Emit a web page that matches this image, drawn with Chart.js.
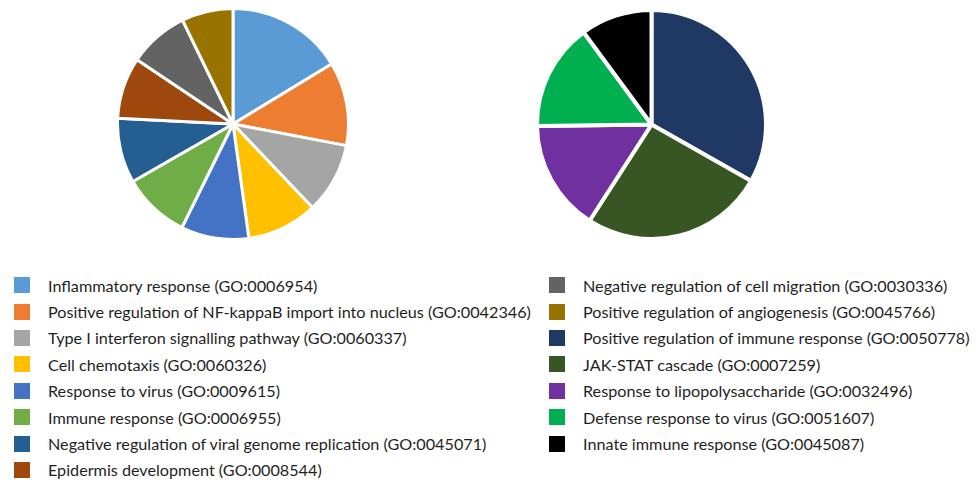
<!DOCTYPE html>
<html>
<head>
<meta charset="utf-8">
<script src="https://cdn.jsdelivr.net/npm/chart.js@4.4.1/dist/chart.umd.min.js"></script>
<style>
  html, body { margin: 0; padding: 0; background: #fff; }
  #wrap { position: relative; width: 976px; height: 481px; overflow: hidden; font-family: Lato, "Open Sans", sans-serif; }
  .pie { position: absolute; }
  #pieA { left: 116px; top: 7px; width: 234px; height: 234px; }
  #pieB { left: 535px; top: 8px; width: 233px; height: 233px; }
  .legend { position: absolute; top: 272px; margin: 0; padding: 0; list-style: none; }
  #legA { left: 14px; }
  #legB { left: 549px; }
  .legend li { height: 26.4px; display: flex; align-items: center; font-size: 16.2px; color: #1f1f1f; white-space: nowrap; }
  .legend .sw { width: 16px; height: 16px; margin-right: 18px; flex: none; }
</style>
</head>
<body>
<div id="wrap">
  <div class="pie" id="pieA"><canvas id="cA"></canvas></div>
  <div class="pie" id="pieB"><canvas id="cB"></canvas></div>
  <ul class="legend" id="legA"></ul>
  <ul class="legend" id="legB"></ul>
</div>
<script>
// GO terms, first group (left pie)
const termsA = [
  "Inflammatory response (GO:0006954)",
  "Positive regulation of NF-kappaB import into nucleus (GO:0042346)",
  "Type I interferon signalling pathway (GO:0060337)",
  "Cell chemotaxis (GO:0060326)",
  "Response to virus (GO:0009615)",
  "Immune response (GO:0006955)",
  "Negative regulation of viral genome replication (GO:0045071)",
  "Epidermis development (GO:0008544)",
  "Negative regulation of cell migration (GO:0030336)",
  "Positive regulation of angiogenesis (GO:0045766)"
];
const valuesA = [16.3, 11.7, 9.9, 9.9, 9.5, 9.4, 9.1, 8.6, 8.4, 7.2];
const colorsA = ["#5B9BD5", "#ED7D31", "#A5A5A5", "#FFC000", "#4472C4", "#70AD47",
                 "#255E91", "#9E480E", "#636363", "#997300"];

// GO terms, second group (right pie)
const termsB = [
  "Positive regulation of immune response (GO:0050778)",
  "JAK-STAT cascade (GO:0007259)",
  "Response to lipopolysaccharide (GO:0032496)",
  "Defense response to virus (GO:0051607)",
  "Innate immune response (GO:0045087)"
];
const valuesB = [33.2, 25.9, 15.7, 15.1, 10.1];
const colorsB = ["#1F3864", "#375623", "#7030A0", "#00B050", "#000000"];

function makePie(id, labels, values, colors, border) {
  return new Chart(document.getElementById(id), {
    type: 'pie',
    data: {
      labels: labels,
      datasets: [{
        data: values,
        backgroundColor: colors,
        borderColor: '#ffffff',
        borderWidth: border
      }]
    },
    options: {
      responsive: true,
      maintainAspectRatio: false,
      animation: false,
      layout: { padding: 0 },
      plugins: { legend: { display: false }, tooltip: { enabled: false } }
    }
  });
}

makePie('cA', termsA, valuesA, colorsA, 3);
makePie('cB', termsB, valuesB, colorsB, 4);

// Two-column legend: first 8 left-pie terms, then the rest
const allTerms = termsA.concat(termsB);
const allColors = colorsA.concat(colorsB);
function fillLegend(el, from, to) {
  for (let i = from; i < to; i++) {
    const li = document.createElement('li');
    const sw = document.createElement('span');
    sw.className = 'sw';
    sw.style.background = allColors[i];
    li.appendChild(sw);
    li.appendChild(document.createTextNode(allTerms[i]));
    el.appendChild(li);
  }
}
fillLegend(document.getElementById('legA'), 0, 8);
fillLegend(document.getElementById('legB'), 8, allTerms.length);
</script>
</body>
</html>
